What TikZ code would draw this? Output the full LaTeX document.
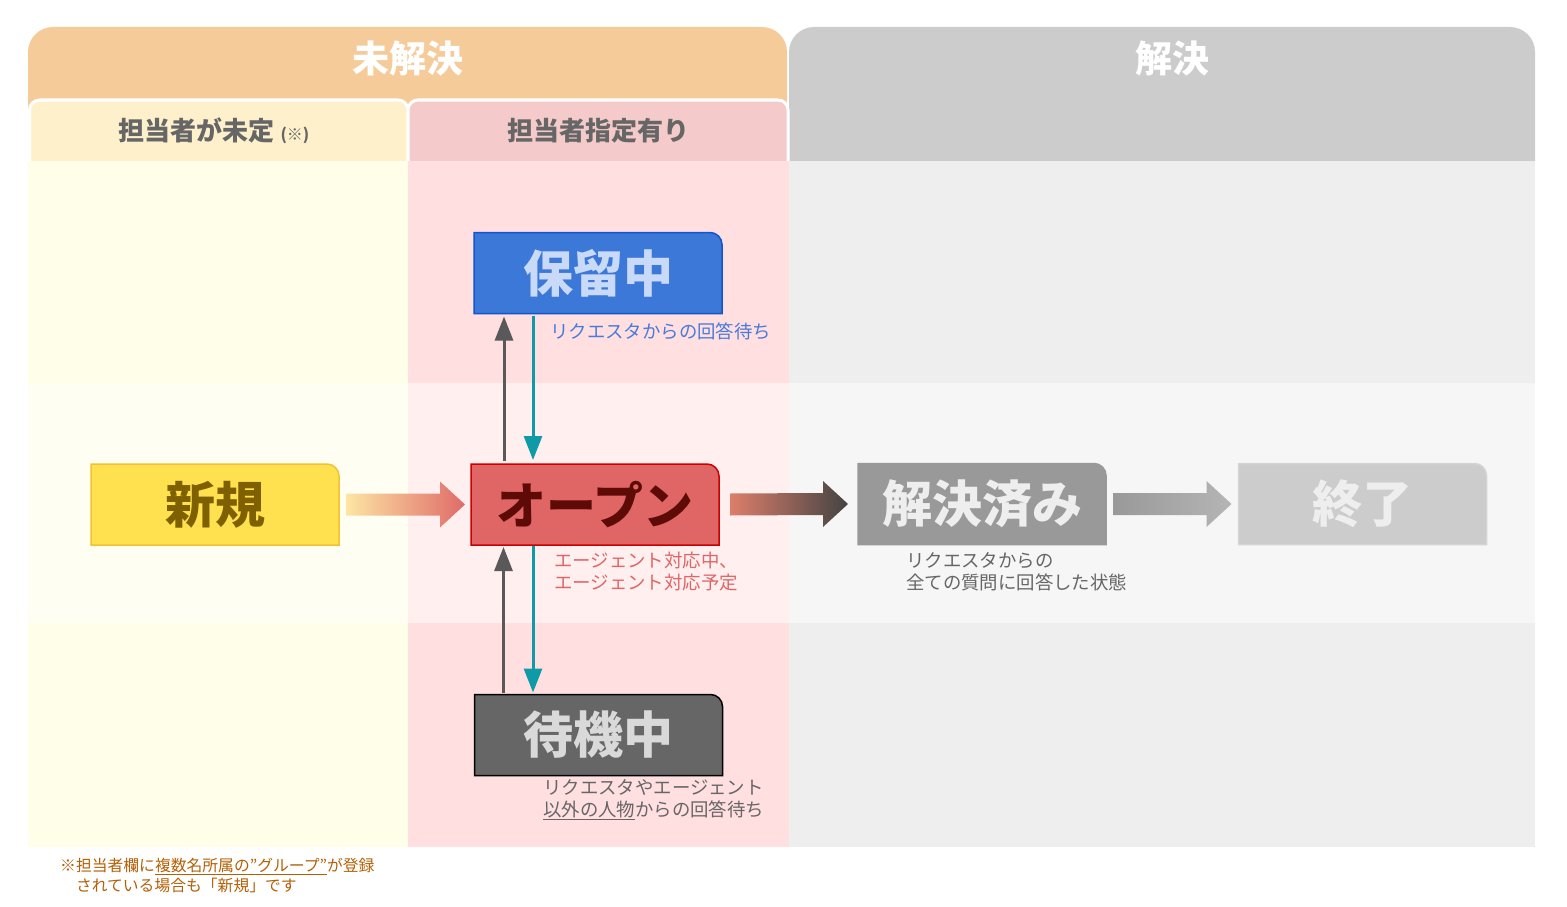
\documentclass[tikz,border=0pt]{standalone}
\usepackage{fontspec}
\setmainfont{Noto Sans CJK JP}
\usetikzlibrary{arrows.meta,calc}
\pgfdeclarelayer{bgA}
\pgfdeclarelayer{bgB}
\pgfsetlayers{bgA,bgB,main}
\definecolor{hdrOrange}{HTML}{F6CB9A}
\definecolor{hdrGray}{HTML}{CCCCCC}
\definecolor{subYellow}{HTML}{FFF0CC}
\definecolor{subPink}{HTML}{F4CACA}
\definecolor{colYellow}{HTML}{FFFEE8}
\definecolor{colPink}{HTML}{FFDFE0}
\definecolor{colGray}{HTML}{EEEEEE}
\definecolor{holdFill}{HTML}{3C78D8}
\definecolor{holdLine}{HTML}{1155CC}
\definecolor{holdText}{HTML}{C9DAF8}
\definecolor{newFill}{HTML}{FFE14F}
\definecolor{newLine}{HTML}{F1C232}
\definecolor{newText}{HTML}{7F6000}
\definecolor{openFill}{HTML}{E06666}
\definecolor{openLine}{HTML}{CC0000}
\definecolor{openText}{HTML}{5E0B07}
\definecolor{doneFill}{HTML}{999999}
\definecolor{closedFill}{HTML}{CCCCCC}
\definecolor{closedLine}{HTML}{D4D4D4}
\definecolor{lightText}{HTML}{EEEEEE}
\definecolor{waitFill}{HTML}{666666}
\definecolor{waitText}{HTML}{D9D9D9}
\definecolor{tealArrow}{HTML}{0E9AA7}
\definecolor{grayArrow}{HTML}{595959}
\definecolor{noteText}{HTML}{B45F06}
\definecolor{labelGray}{HTML}{666666}
\definecolor{holdLabel}{HTML}{4A7BD8}
\definecolor{arrYellow}{HTML}{FDE5A3}
\definecolor{arrRed}{HTML}{DF6B69}
\definecolor{arrSalmon}{HTML}{DD7E6B}
\definecolor{arrDark}{HTML}{434343}
\definecolor{arrGrayA}{HTML}{999999}
\definecolor{arrGrayB}{HTML}{B5B5B5}
\tikzset{
  statebox/.style={minimum width=248pt, minimum height=81pt, inner sep=0pt, outer sep=0pt, font=\fontsize{50}{50}\selectfont\bfseries},
  hdrtext/.style={font=\fontsize{37}{37}\selectfont\bfseries, text=white, inner sep=0pt},
  subtext/.style={font=\fontsize{26}{26}\selectfont\bfseries, text=labelGray, inner sep=0pt},
  note/.style={font=\fontsize{18.4}{22}\selectfont, align=left, anchor=west, inner sep=0pt},
  uparr/.style={draw=grayArrow, line width=3pt, -{Triangle[width=18pt,length=24pt]}},
  downarr/.style={draw=tealArrow, line width=3pt, -{Triangle[width=18pt,length=24pt]}},
}
\newcommand\stbox[7]{%
  \node[statebox, text=#6] (#1) at (#2,#3) {#7};
  \begin{pgfonlayer}{bgB}
  \path[fill=#4, draw=#5, line width=1.5pt] (#1.south west) -- (#1.north west) -- ([xshift=-12pt]#1.north east) arc[start angle=90, end angle=0, radius=12pt] -- (#1.south east) -- cycle;
  \end{pgfonlayer}}
\newcommand\blockarrow[6]{%
  \coordinate (ba-s) at ($(#1.east)+(#3,0)$);
  \coordinate (ba-e) at ($(#2.west)+(-#4,0)$);
  \shade[left color=#5, right color=#6] ($(ba-s)+(0,-11)$) -- ($(ba-e)+(-25,-11)$) -- ($(ba-e)+(-25,-23)$) -- (ba-e) -- ($(ba-e)+(-25,23)$) -- ($(ba-e)+(-25,11)$) -- ($(ba-s)+(0,11)$) -- cycle;}
\begin{document}
\begin{tikzpicture}[x=1pt,y=-1pt]
\useasboundingbox (0,0) rectangle (1567,907);
\begin{pgfonlayer}{bgA}
  % headers
  \path[fill=hdrOrange, rounded corners=25pt] (28,161) -- (28,27) -- (787,27) -- (787,161);
  \path[fill=hdrGray, rounded corners=25pt] (789,161) -- (789,27) -- (1535,27) -- (1535,161);
  \path[fill=subYellow, draw=white, line width=3pt, rounded corners=10pt] (29.5,161) -- (29.5,100) -- (408,100) -- (408,161);
  \path[fill=subPink, draw=white, line width=3pt, rounded corners=10pt] (408,161) -- (408,100) -- (788,100) -- (788,161);
  % columns
  \fill[colYellow] (28,161) rectangle (408,847);
  \fill[colPink] (408,161) rectangle (789,847);
  \fill[colGray] (789,161) rectangle (1535,847);
  \fill[white, opacity=0.5] (28,383) rectangle (1535,623);
\end{pgfonlayer}
% header texts
\node[hdrtext] (hU) at (408,58) {未解決};
\node[hdrtext] (hR) at (1172,58) {解決};
\node[subtext] (sA) at (214,131) {担当者が未定 {\fontsize{16}{16}\selectfont(※)}};
\node[subtext] (sB) at (598,131) {担当者指定有り};
% state boxes
\stbox{hold}{598}{273}{holdFill}{holdLine}{holdText}{保留中}
\stbox{new}{215}{504.5}{newFill}{newLine}{newText}{新規}
\stbox{open}{595}{504.5}{openFill}{openLine}{openText}{オープン}
\stbox{done}{982}{504}{doneFill}{doneFill}{lightText}{解決済み}
\stbox{closed}{1362.5}{504}{closedFill}{closedLine}{lightText}{終了}
\stbox{wait}{598.5}{735}{waitFill}{black}{waitText}{待機中}
% block arrows
\blockarrow{new}{open}{7}{6}{arrYellow}{arrRed}
\blockarrow{open}{done}{11}{10}{arrSalmon}{arrDark}
\blockarrow{done}{closed}{7}{7}{arrGrayA}{arrGrayB}
% vertical arrows
\coordinate (ou) at ($(open.north west)+(33,0)$);
\coordinate (hs) at ($(hold.south west)+(59,0)$);
\coordinate (wt) at ($(wait.north west)+(29,0)$);
\coordinate (ob) at ($(open.south west)+(62,0)$);
\draw[uparr, shorten >=3pt] ([yshift=3pt]ou) -- (ou |- hold.south);
\draw[downarr, shorten >=4pt] ([yshift=-2pt]hs) -- (hs |- open.north);
\draw[uparr, shorten >=2pt] ([yshift=2pt]wt) -- (wt |- open.south);
\draw[downarr, shorten >=2pt] ([yshift=-1pt]ob) -- (ob |- wait.north);
% labels
\node[note, text=holdLabel] (lblhold) at (550,331) {リクエスタからの回答待ち};
\node[note, text=openFill] (lblopen) at (554,572) {エージェント対応中、\\エージェント対応予定};
\node[note, text=labelGray] (lbldone) at (906,571.5) {リクエスタからの\\全ての質問に回答した状態};
\node[note, text=labelGray] (lblwait) at (543,800) {リクエスタやエージェント\\\underline{以外の人物}からの回答待ち};
\node[note, font=\fontsize{15.8}{20}\selectfont, text=noteText] (fn) at (60,875) {※担当者欄に\underline{複数名所属の"グループ"}が登録\\　されている場合も「新規」です};
\end{tikzpicture}
\end{document}
